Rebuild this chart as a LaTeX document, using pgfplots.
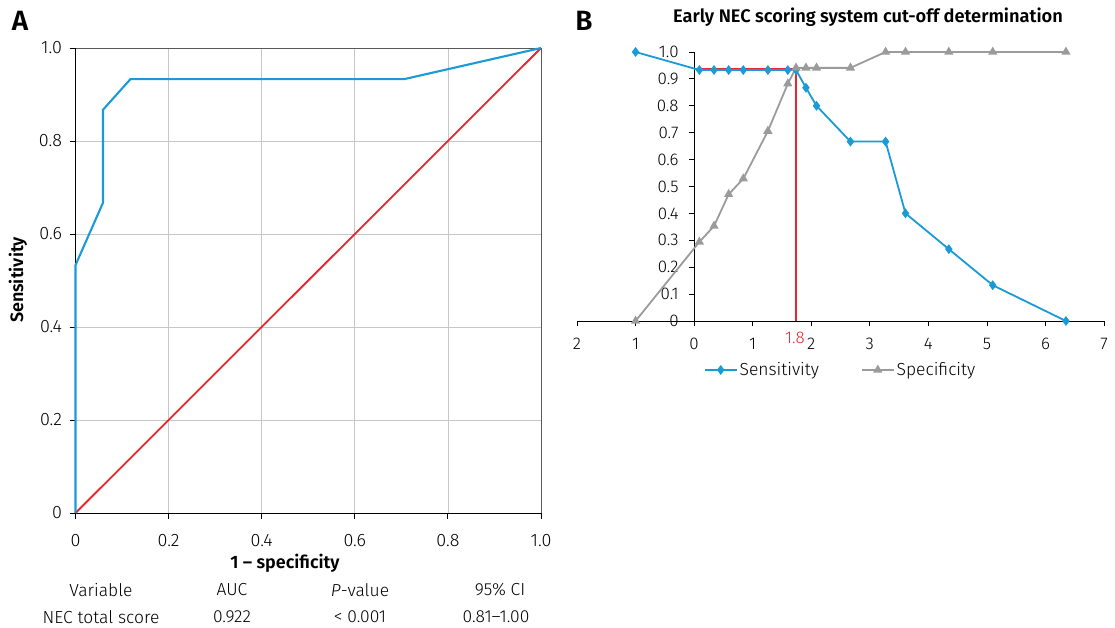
\documentclass[border=0pt]{standalone}
\usepackage{fontspec}
\setmainfont{Fira Sans}[UprightFont={* Light}, ItalicFont={* Light Italic}, BoldFont={* SemiBold}]
\usepackage{pgfplots}
\pgfplotsset{compat=1.18}
\definecolor{rocblue}{HTML}{1A9AD6}
\definecolor{rocred}{HTML}{E8262D}
\definecolor{specgray}{HTML}{9B9B9B}
\newcommand{\fs}[1]{\fontsize{#1}{#1}\selectfont}
\pgfplotstableread{
x      sens   spec
-1.00  1.000  0.000
0.09   0.933  0.294
0.34   0.933  0.353
0.59   0.933  0.471
0.84   0.933  0.529
1.26   0.933  0.706
1.60   0.933  0.882
1.74   0.933  0.941
1.91   0.867  0.941
2.09   0.800  0.941
2.67   0.667  0.941
3.27   0.667  1.000
3.61   0.400  1.000
4.35   0.267  1.000
5.10   0.133  1.000
6.35   0.000  1.000
}\cutoff
\begin{document}
\begin{tikzpicture}[x=1bp,y=1bp]
\useasboundingbox (0,0) rectangle (1115,628);
% ---------- Panel A ----------
\begin{axis}[
  at={(75.5bp,115bp)}, anchor=south west, scale only axis,
  width=465.5bp, height=465bp,
  xmin=0, xmax=1, ymin=0, ymax=1,
  axis lines=left, axis line style={-, black, line width=0.9bp},
  xtick={0,0.2,0.4,0.6,0.8,1}, xticklabels={0,0.2,0.4,0.6,0.8,1.0},
  ytick={0,0.2,0.4,0.6,0.8,1}, yticklabels={0,0.2,0.4,0.6,0.8,1.0},
  grid=major, grid style={color=black!22, line width=0.8bp},
  tick align=outside, major tick length=6bp,
  tick style={black, line width=0.9bp},
  tick label style={font=\fs{18}},
  xticklabel style={yshift=-12bp},
  yticklabel style={xshift=-4bp},
  /pgf/number format/assume math mode=true,
  clip=false,
]
\draw[black!65, line width=0.9bp] (rel axis cs:0,1) -- (rel axis cs:1,1) -- (rel axis cs:1,0);
\addplot[rocred, line width=1.8bp] coordinates {(0,0) (1,1)};
\addplot[rocblue, line width=2.1bp] coordinates {
(0,0) (0,0.533) (0.059,0.667) (0.059,0.867) (0.118,0.933) (0.706,0.933) (1,1)};
\end{axis}
\node[font=\fs{28}\bfseries] at (20,607) {A};
\node[font=\fs{18}\bfseries] at (285,65) {1 – specificity};
\node[font=\fs{18}\bfseries, rotate=90] at (18,348) {Sensitivity};
\begin{scope}[every node/.style={font=\fs{17.5}}]
\node at (101,38) {Variable};
\node at (232,38) {AUC};
\node at (360,38) {\textit{P}-value};
\node at (500,38) {95\% CI};
\node at (101,11) {NEC total score};
\node at (232,11) {0.922};
\node at (360,11) {< 0.001};
\node at (496,11) {0.81–1.00};
\end{scope}
% ---------- Panel B ----------
\begin{axis}[
  at={(577bp,307bp)}, anchor=south west, scale only axis,
  width=527bp, height=269bp,
  xmin=-2, xmax=7, ymin=0, ymax=1,
  axis x line=bottom, axis y line=middle,
  axis line style={-, black, line width=0.8bp},
  xtick={-2,-1,0,1,2,3,4,5,6,7}, xticklabels={2,1,0,1,2,3,4,5,6,7},
  ytick={0,0.1,0.2,0.3,0.4,0.5,0.6,0.7,0.8,0.9,1},
  yticklabels={0,0.1,0.2,0.3,0.4,0.5,0.6,0.7,0.8,0.9,1.0},
  hide obscured x ticks=false, hide obscured y ticks=false,
  tick align=outside, major tick length=5bp,
  tick style={black, line width=0.8bp},
  tick label style={font=\fs{17}},
  xticklabel style={yshift=-9bp},
  yticklabel style={xshift=-7bp},
  /pgf/number format/assume math mode=true,
  clip=false,
  legend style={at={(0.5,-0.182)}, anchor=center, draw=none, fill=none,
    legend columns=2, font=\fs{17.5},
    /tikz/every even column/.append style={column sep=40bp}},
  legend image code/.code={\draw[mark repeat=2,mark phase=2,#1] plot coordinates {(0bp,0bp) (16bp,0bp) (32bp,0bp)};},
]
\addplot[rocred, line width=1.3bp, forget plot] coordinates {(0,0.937) (1.74,0.937)};
\addplot[rocred, line width=1.3bp, forget plot] coordinates {(1.74,0) (1.74,0.937)};
\addplot[rocblue, line width=1.8bp, mark=diamond*, mark size=3.5bp, mark options={fill=rocblue, draw=rocblue}]
  table[x=x, y=sens] {\cutoff};
\addlegendentry{Sensitivity}
\addplot[specgray, line width=1.8bp, mark=triangle*, mark size=3.6bp, mark options={fill=specgray, draw=specgray}]
  table[x=x, y=spec] {\cutoff};
\addlegendentry{Specificity}
\node[text=rocred, font=\fs{17}, anchor=center] at (axis cs:1.74,0) [yshift=-16.5bp, xshift=-1bp] {1.8};
\end{axis}
\node[font=\fs{28}\bfseries] at (584,607) {B};
\node[font=\fs{18.3}\bfseries] at (868,611) {Early NEC scoring system cut-off determination};
\end{tikzpicture}
\end{document}
